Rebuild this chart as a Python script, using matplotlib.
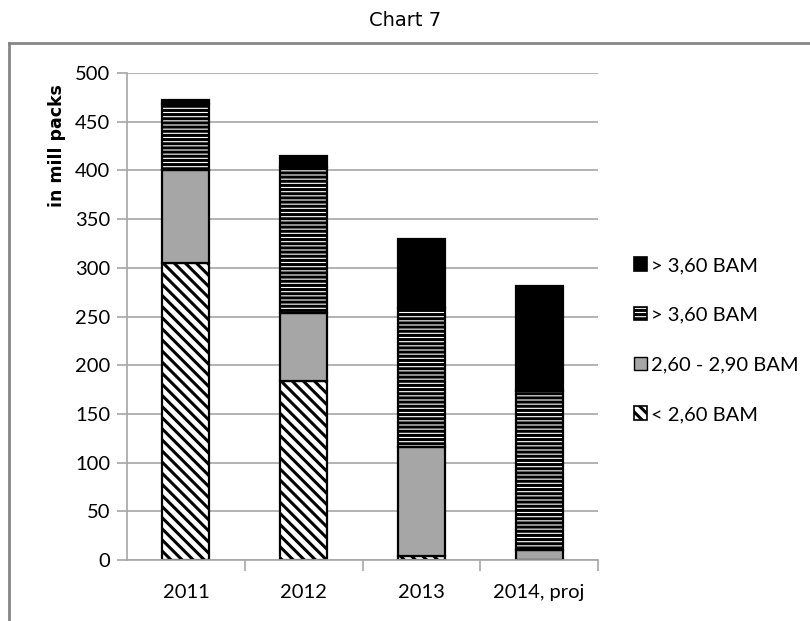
import matplotlib
matplotlib.use("Agg")
import matplotlib.pyplot as plt
from matplotlib.patches import Patch
from matplotlib.lines import Line2D
import numpy as np

# Data (million packs)
categories = ["2011", "2012", "2013", "2014, proj"]
below_260 = [305, 184, 4, 0]
from_260_to_290 = [95, 70, 112, 10]
above_360_striped = [68, 149, 143, 163]
above_360_solid = [4, 12, 71, 108]

series_labels = ["< 2,60 BAM", "2,60 - 2,90 BAM", "> 3,60 BAM", "> 3,60 BAM"]
y_ticks = list(range(0, 501, 50))

plt.rcParams["hatch.linewidth"] = 2.2
tick_font = ["Lato", "DejaVu Sans"]

fig = plt.figure(figsize=(8.10, 6.21), dpi=100)
W, H = 810, 621

# Chart frame line (top and left edges visible)
fig.add_artist(Line2D([9 / W, 1.0], [1 - 43 / H, 1 - 43 / H], transform=fig.transFigure,
                      color="#868686", lw=2))
fig.add_artist(Line2D([9 / W, 9 / W], [0, 1 - 43 / H], transform=fig.transFigure,
                      color="#868686", lw=2))

fig.text(405 / W, 1 - 21 / H, "Chart 7", ha="center", va="center",
         fontsize=14, family=["DejaVu Sans"])

left, right, top, bottom = 127, 598, 73, 560
ax = fig.add_axes([left / W, 1 - bottom / H, (right - left) / W, (bottom - top) / H])

x = np.arange(len(categories))
bw = 0.4
edge = dict(edgecolor="black", linewidth=1.6)

b0 = np.zeros(len(categories))
ax.bar(x, below_260, bw, bottom=b0, color="white", hatch="\\\\\\", **edge)
b1 = b0 + np.array(below_260)
ax.bar(x, from_260_to_290, bw, bottom=b1, color="#a6a6a6", **edge)
b2 = b1 + np.array(from_260_to_290)
ax.bar(x, above_360_striped, bw, bottom=b2, color="white", hatch="----", **edge)
b3 = b2 + np.array(above_360_striped)
ax.bar(x, above_360_solid, bw, bottom=b3, color="black", **edge)

ax.set_xlim(-0.5, len(categories) - 0.5)
ax.set_ylim(0, 500)
ax.set_yticks(y_ticks)
ax.set_yticklabels([str(v) for v in y_ticks], family=tick_font, fontsize=14.5)
ax.yaxis.grid(True, color="#a6a6a6", linewidth=1.2)
ax.set_axisbelow(True)

ax.set_xticks(x)
ax.set_xticklabels(categories, family=tick_font, fontsize=14.5)
ax.tick_params(axis="x", length=0, pad=17)
ax.tick_params(axis="y", length=7, color="#a6a6a6", width=1.2, pad=5)
# boundary ticks between categories
ax.set_xticks(np.arange(0.5, len(categories), 1.0), minor=True)
ax.tick_params(axis="x", which="minor", length=8, color="#a6a6a6", width=1.2)

for s in ["top", "right"]:
    ax.spines[s].set_visible(False)
for s in ["left", "bottom"]:
    ax.spines[s].set_color("#a6a6a6")
    ax.spines[s].set_linewidth(1.2)

fig.text(57 / W, 1 - 146 / H, "in mill packs", rotation=90, ha="center", va="center",
         family=["DejaVu Sans"], fontweight="bold", fontsize=12.5)

handles = [
    Patch(facecolor="black", edgecolor="black", linewidth=1.2),
    Patch(facecolor="white", edgecolor="black", hatch="----", linewidth=1.2),
    Patch(facecolor="#a6a6a6", edgecolor="black", linewidth=1.0),
    Patch(facecolor="white", edgecolor="black", hatch="\\\\\\", linewidth=1.2),
]
labels = [series_labels[3], series_labels[2], series_labels[1], series_labels[0]]
fig.legend(handles, labels, loc="upper left", bbox_to_anchor=(626 / W, 1 - 249 / H),
           frameon=False, prop={"family": tick_font, "size": 14.5},
           handlelength=0.65, handleheight=0.65, handletextpad=0.2,
           labelspacing=1.62, borderaxespad=0)

fig.savefig("out.png", dpi=100, facecolor="white")
